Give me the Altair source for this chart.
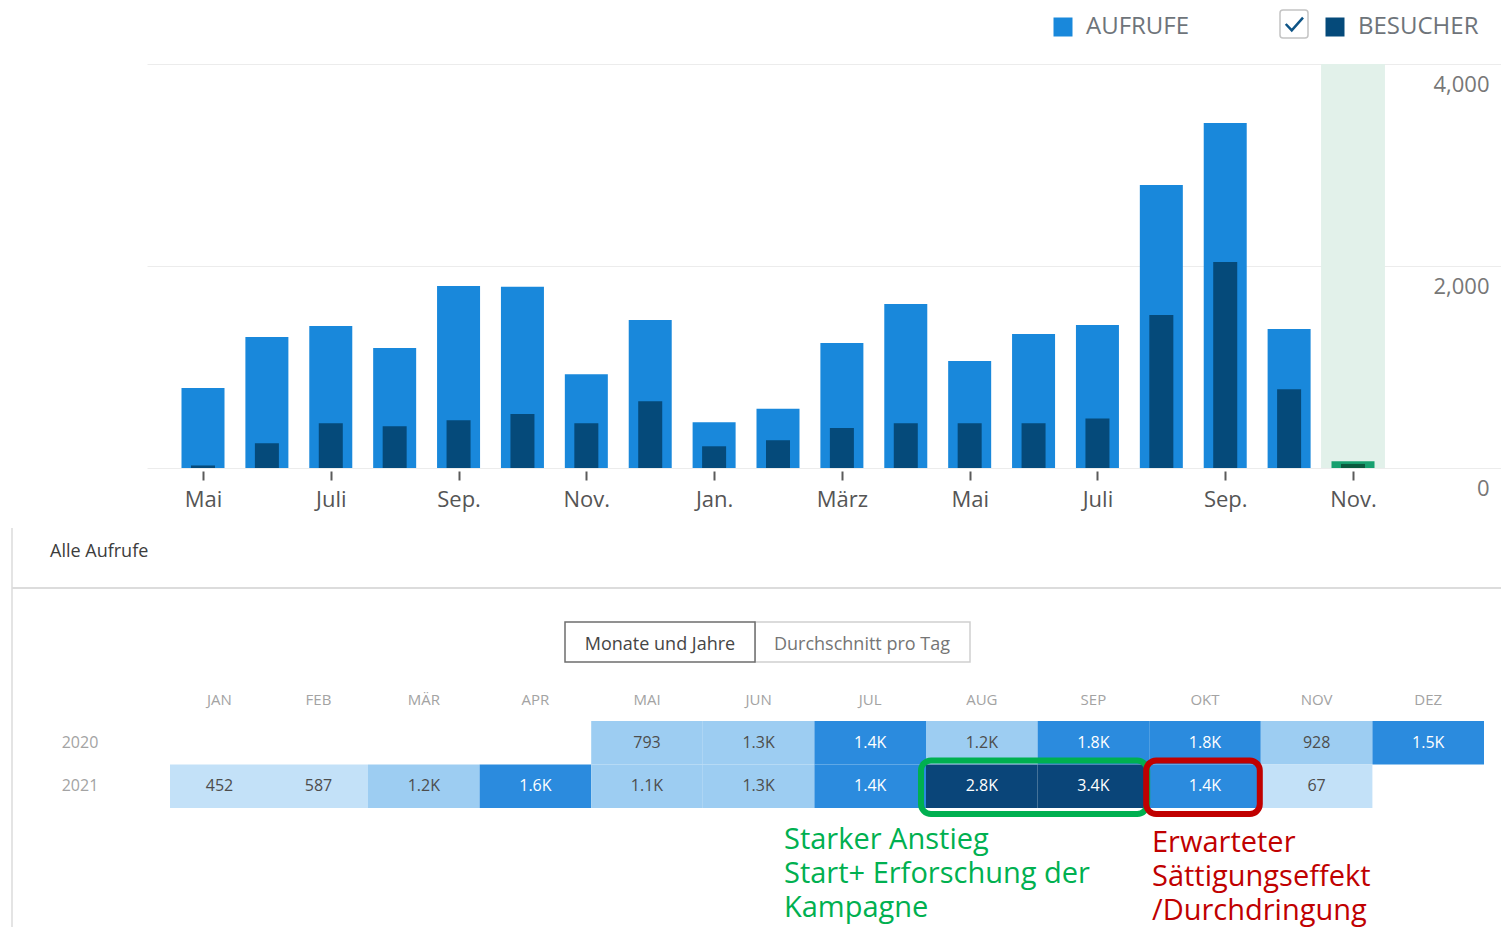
import json
import altair as alt
import pandas as pd

# ---------------- data ----------------
bar_months = ['Mai', 'Juni', 'Juli', 'Aug.', 'Sep.', 'Okt.', 'Nov.', 'Dez.',
              'Jan.', 'Feb.', 'März', 'Apr.', 'Mai', 'Juni', 'Juli', 'Aug.', 'Sep.', 'Okt.', 'Nov.']
aufrufe = [793, 1297, 1406, 1188, 1802, 1795, 928, 1465,
           452, 587, 1238, 1624, 1059, 1327, 1416, 2802, 3416, 1376, 67]
besucher = [25, 245, 444, 414, 473, 535, 444, 660,
            215, 275, 396, 444, 444, 444, 490, 1515, 2040, 780, 40]
series_names = ['AUFRUFE', 'BESUCHER']
y_ticks = [0, 2000, 4000]

table_months = ['JAN', 'FEB', 'MÄR', 'APR', 'MAI', 'JUN', 'JUL', 'AUG', 'SEP', 'OKT', 'NOV', 'DEZ']
table_years = ['2020', '2021']
first_month = 'MAI'          # first month of the series (2020)
cell_thresholds = [700, 1350, 2500]

green_months = ['AUG', 'SEP']  # 2021
red_months = ['OKT']           # 2021
green_text = 'Starker Anstieg\nStart+ Erforschung der\nKampagne'
red_text = 'Erwarteter\nSättigungseffekt\n/Durchdringung'

# ---------------- style ----------------
FONT = 'Open Sans'
W, H = 1354, 404
PAD_L, PAD_T, TOTAL_H = 139, 56, 919
series_colors = ['#1988db', '#054a7a']
now_colors = ['#17a06f', '#0a5a3e']
cell_colors = ['#c3e1f8', '#9dcdf2', '#2b8bde', '#0a4579']

n = len(aufrufe)
last = n - 1

long = pd.DataFrame({
    'idx': list(range(n)) * 2,
    'serie': [series_names[0]] * n + [series_names[1]] * n,
    'wert': aufrufe + besucher,
})

start = table_months.index(first_month)
cells = pd.DataFrame({
    'col': [(start + i) % 12 for i in range(n)],
    'row': [(start + i) // 12 for i in range(n)],
    'wert': aufrufe,
})
headers = pd.DataFrame({'col': list(range(12)), 'mon': table_months})
years = pd.DataFrame({'row': list(range(len(table_years))), 'jahr': table_years})

def box_df(months):
    c = [table_months.index(m) for m in months]
    return pd.DataFrame({'c0': [min(c)], 'c1': [max(c) + 1], 'r0': [1], 'r1': [2]})

dummy = pd.DataFrame({'k': [0]})

# ---------------- scales / axes ----------------
step, first_px = 63.889, 56
xb = alt.Scale(domain=[-first_px / step, (W - first_px) / step], nice=False, zero=False, padding=0)
yb = alt.Scale(domain=[0, 4000], nice=False, padding=0)
xt = alt.Scale(type='linear', domain=[0, 2, 12], range=[23, 221, 1337], nice=False, zero=False)
yt = alt.Scale(domain=[0, 2], range=[657, 744], nice=False, zero=False)

x_axis = alt.Axis(values=list(range(0, n, 2)),
                  labelExpr=json.dumps(bar_months, ensure_ascii=False) + '[datum.value]',
                  title=None, grid=False, domain=False, tickSize=9, tickWidth=2,
                  tickColor='#5a5a5a', offset=3, labelPadding=9, labelFont=FONT,
                  labelFontSize=22, labelColor='#555555', labelFlush=False, labelOverlap=False)
y_axis = alt.Axis(orient='right', values=y_ticks, format=',.0f', title=None, domain=False,
                  ticks=False, tickSize=0, labelPadding=-12, labelAlign='right',
                  labelBaseline='middle', labelOffset=20, grid=True, gridColor='#ececec',
                  gridWidth=1, labelFont=FONT, labelFontSize=22, labelColor='#777777',
                  labelFlush=False, labelOverlap=False)
legend = alt.Legend(orient='none', legendX=904, legendY=-49, direction='horizontal',
                    title=None, symbolType='square', symbolSize=361, symbolStrokeWidth=0,
                    labelFont=FONT, labelFontSize=24, labelColor='#6e747a', labelOffset=11,
                    labelLimit=400, columnPadding=133, padding=0)
color_scale = alt.Scale(domain=series_names, range=series_colors)

# ---------------- top bar chart ----------------
band = alt.Chart(pd.DataFrame({'idx': [last]})).transform_calculate(
    x0='datum.idx - 0.5', x1='datum.idx + 0.5'
).mark_rect(color='#e2f1ea').encode(
    x=alt.X('x0:Q', scale=xb, axis=x_axis), x2='x1:Q',
    y=alt.value(0), y2=alt.value(H))

def bar_layer(serie, width, color=None, now=False):
    flt = f"datum.serie == '{serie}' && datum.idx " + ("== " if now else "< ") + str(last)
    enc = dict(x=alt.X('idx:Q', scale=xb, axis=x_axis),
               y=alt.Y('wert:Q', scale=yb, axis=y_axis, stack=None))
    if color is None:
        enc['color'] = alt.Color('serie:N', scale=color_scale, legend=legend)
    else:
        enc['color'] = alt.value(color)
    return alt.Chart(long).transform_filter(flt).mark_bar(width=width).encode(**enc)

top = alt.layer(
    band,
    bar_layer(series_names[0], 43),
    bar_layer(series_names[1], 24),
    bar_layer(series_names[0], 43, now_colors[0], True),
    bar_layer(series_names[1], 24, now_colors[1], True),
)

# ---------------- table (heatmap) ----------------
cells_base = alt.Chart(cells).transform_calculate(
    col2='datum.col + 1', row2='datum.row + 1',
    colm='datum.col + 0.5', rowm='datum.row + 0.5',
    label="datum.wert >= 1000 ? format(datum.wert / 1000, '.1f') + 'K' : format(datum.wert, 'd')")

cell_rect = cells_base.mark_rect().encode(
    x=alt.X('col:Q', scale=xt, axis=None), x2='col2:Q',
    y=alt.Y('row:Q', scale=yt, axis=None), y2='row2:Q',
    color=alt.Color('wert:Q', scale=alt.Scale(type='threshold', domain=cell_thresholds,
                                               range=cell_colors), legend=None))
cell_text = cells_base.mark_text(font=FONT, fontSize=16).encode(
    x=alt.X('colm:Q', scale=xt, axis=None),
    y=alt.Y('rowm:Q', scale=yt, axis=None),
    text='label:N',
    color=alt.condition(f'datum.wert >= {cell_thresholds[1]}', alt.value('white'), alt.value('#4d4d4d')))
hdr = alt.Chart(headers).transform_calculate(colm='datum.col + 0.5').mark_text(
    font=FONT, fontSize=15, color='#a3a3a3').encode(
    x=alt.X('colm:Q', scale=xt, axis=None), y=alt.value(636), text='mon:N')
yrs = alt.Chart(years).transform_calculate(rowm='datum.row + 0.5').mark_text(
    font=FONT, fontSize=16, color='#a3a3a3').encode(
    x=alt.value(-67), y=alt.Y('rowm:Q', scale=yt, axis=None), text='jahr:N')

def ann_box(months, color, xo, x2o):
    return alt.Chart(box_df(months)).mark_rect(
        filled=False, stroke=color, strokeWidth=6, cornerRadius=10,
        xOffset=xo, x2Offset=x2o, yOffset=-4, y2Offset=6).encode(
        x=alt.X('c0:Q', scale=xt, axis=None), x2='c1:Q',
        y=alt.Y('r0:Q', scale=yt, axis=None), y2='r1:Q')

table = alt.layer(cell_rect, cell_text, hdr, yrs,
                  ann_box(green_months, '#00b050', -5, -2),
                  ann_box(red_months, '#c00000', -3, -1))

# ---------------- decorations ----------------
panel_v = alt.Chart(dummy).mark_rule(color='#e4e4e4', strokeWidth=2).encode(
    x=alt.value(-135), y=alt.value(464), y2=alt.value(880))
panel_h = alt.Chart(dummy).mark_rule(color='#dcdcdc', strokeWidth=2).encode(
    x=alt.value(-135), x2=alt.value(W), y=alt.value(524))
title_txt = alt.Chart(dummy).mark_text(font=FONT, fontSize=18, color='#3c3c3c',
                                       align='left', baseline='middle').encode(
    x=alt.value(-97), y=alt.value(488), text=alt.value('Alle Aufrufe'))
btn_r = alt.Chart(dummy).mark_rect(fill='white', stroke='#cfcfcf', strokeWidth=1.5).encode(
    x=alt.value(608), x2=alt.value(823), y=alt.value(558), y2=alt.value(598))
btn_l = alt.Chart(dummy).mark_rect(fill='white', stroke='#6e6e6e', strokeWidth=1.5).encode(
    x=alt.value(418), x2=alt.value(608), y=alt.value(558), y2=alt.value(598))
btn_l_txt = alt.Chart(dummy).mark_text(font=FONT, fontSize=18, color='#454545').encode(
    x=alt.value(513), y=alt.value(581), text=alt.value('Monate und Jahre'))
btn_r_txt = alt.Chart(dummy).mark_text(font=FONT, fontSize=18, color='#757575').encode(
    x=alt.value(715), y=alt.value(581), text=alt.value('Durchschnitt pro Tag'))
chk_box = alt.Chart(dummy).mark_rect(fill='white', stroke='#c4c4c4', strokeWidth=1.5,
                                     cornerRadius=3).encode(
    x=alt.value(1133), x2=alt.value(1161), y=alt.value(-54), y2=alt.value(-26))
chk_mark = alt.Chart(dummy).mark_point(shape='M -0.55 0 L -0.15 0.42 L 0.6 -0.42',
                                       filled=False, stroke='#0e5486', strokeWidth=2.5,
                                       size=900, opacity=1).encode(
    x=alt.value(1147), y=alt.value(-40))
green_ann = alt.Chart(dummy).mark_text(font=FONT, fontSize=29, color='#00b050', align='left',
                                       baseline='alphabetic', lineBreak='\n', lineHeight=34).encode(
    x=alt.value(637), y=alt.value(785), text=alt.value(green_text))
red_ann = alt.Chart(dummy).mark_text(font=FONT, fontSize=29, color='#c00000', align='left',
                                     baseline='alphabetic', lineBreak='\n', lineHeight=34).encode(
    x=alt.value(1005), y=alt.value(788), text=alt.value(red_text))

chart = alt.layer(
    panel_v, panel_h, title_txt, btn_r, btn_l, btn_l_txt, btn_r_txt,
    chk_box, chk_mark,
    top, table, green_ann, red_ann,
).resolve_scale(x='independent', y='independent', color='independent').properties(
    width=W, height=H,
    autosize=alt.AutoSizeParams(type='none'),
    padding={'left': PAD_L, 'top': PAD_T, 'right': 0, 'bottom': TOTAL_H - PAD_T - H},
).configure_view(stroke=None)

chart.save('out.html', embed_options={'renderer': 'svg', 'actions': False})
